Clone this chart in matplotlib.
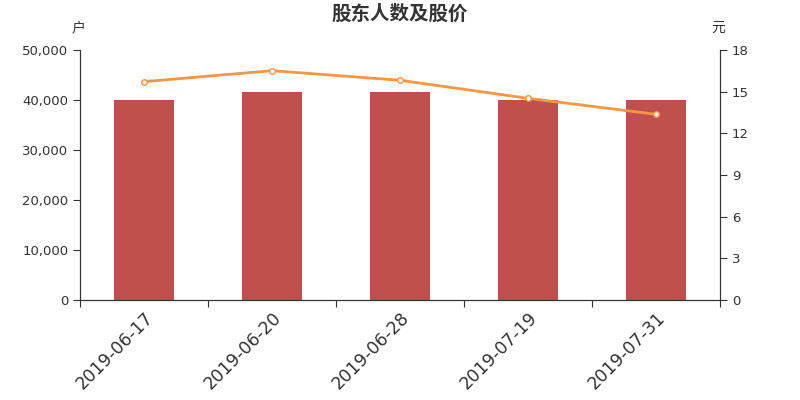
import numpy as np
import matplotlib
matplotlib.use("Agg")
import matplotlib.pyplot as plt
from matplotlib.ticker import FuncFormatter

plt.rcParams['font.family'] = ['DejaVu Sans', 'Noto Sans CJK SC']
cjk = ['Noto Sans CJK SC', 'DejaVu Sans']

dates = ['2019-06-17', '2019-06-20', '2019-06-28', '2019-07-19', '2019-07-31']
holders = [39930, 41530, 41670, 40070, 39930]
price = [15.72, 16.51, 15.82, 14.52, 13.37]

dark = '#333333'
fig = plt.figure(figsize=(8, 4), dpi=100)
ax = fig.add_axes([0.1, 0.25, 0.8, 0.625])
x = np.arange(len(dates))
ax.bar(x, holders, width=0.47, color='#c0504d', zorder=2)
ax.set_xlim(-0.5, len(dates) - 0.5)
ax.set_ylim(0, 50000)
ax.set_yticks(np.arange(0, 50001, 10000))
ax.yaxis.set_major_formatter(FuncFormatter(lambda v, p: f'{int(v):,}'))
ax.set_xticks(np.arange(-0.5, len(dates), 1.0))
ax.set_xticklabels([])
ax.set_xticks(x, minor=True)
ax.set_xticklabels(dates, minor=True, rotation=45, ha='right', rotation_mode='anchor',
                   fontsize=12.5, color=dark)
ax.tick_params(axis='x', which='minor', length=0, pad=6)
ax.tick_params(axis='x', which='major', length=5, color=dark)
ax.tick_params(axis='y', length=5, color=dark, labelcolor=dark, labelsize=9.5)
ax.spines['top'].set_visible(False)
for s in ['left', 'bottom', 'right']:
    ax.spines[s].set_color(dark)

ax2 = ax.twinx()
ax2.plot(x, price, color='#f79646', linewidth=2, marker='o', markersize=4,
         markerfacecolor='white', markeredgecolor='#f79646', markeredgewidth=1, zorder=3)
ax2.set_ylim(0, 18)
ax2.set_yticks(np.arange(0, 19, 3))
ax2.tick_params(axis='y', length=5, color=dark, labelcolor=dark, labelsize=9.5)
ax2.spines['top'].set_visible(False)
for s in ['left', 'bottom', 'right']:
    ax2.spines[s].set_color(dark)

fig.text(0.5, 0.965, '股东人数及股价', ha='center', va='center', fontsize=14,
         fontweight='bold', color=dark, family=cjk)
fig.text(0.0975, 0.93, '户', ha='center', va='center', fontsize=10, color=dark, family=cjk)
fig.text(0.898, 0.93, '元', ha='center', va='center', fontsize=10, color=dark, family=cjk)

fig.savefig('out.png', dpi=100)
